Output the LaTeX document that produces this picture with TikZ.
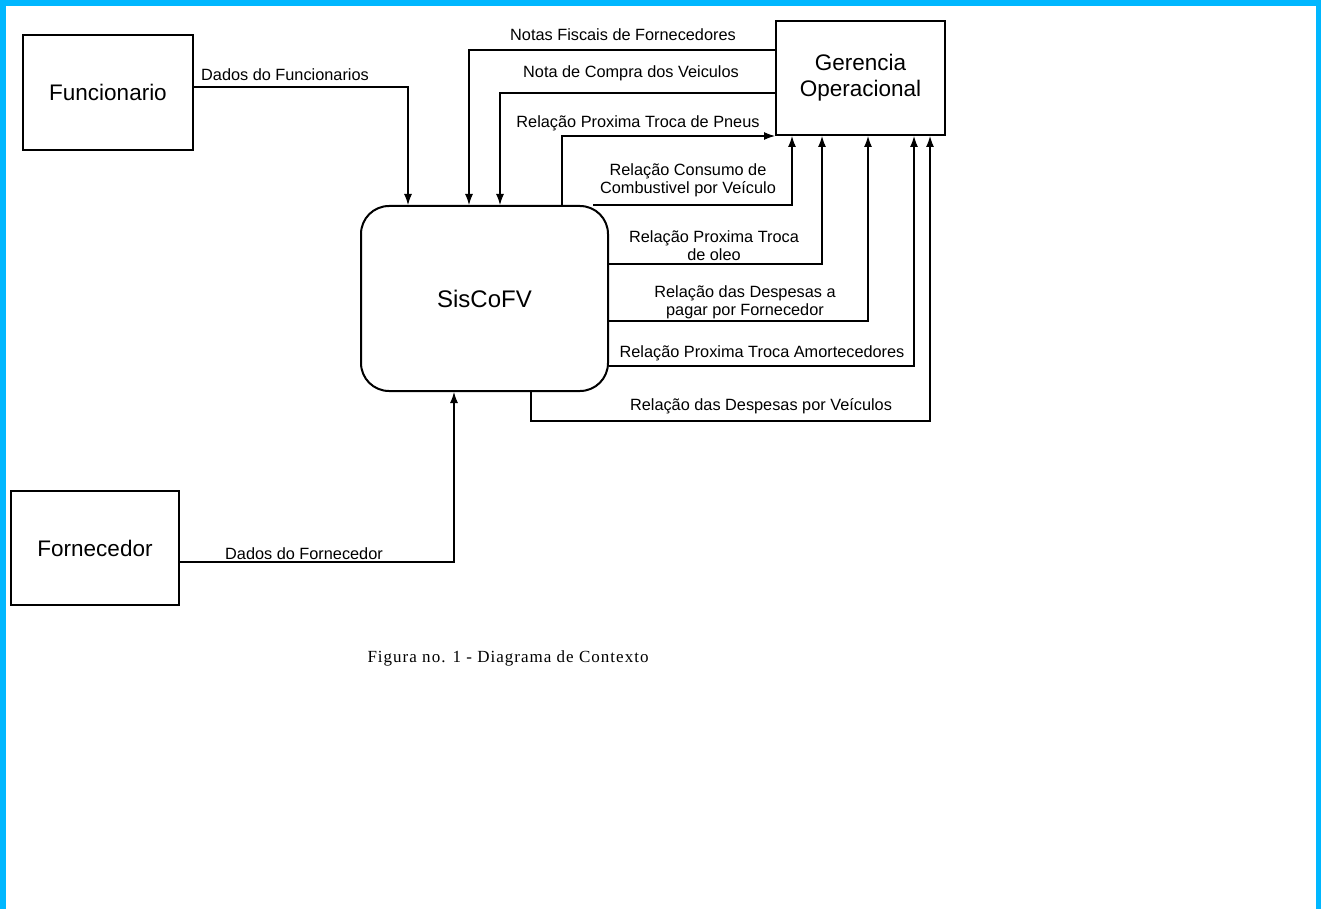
\documentclass[tikz,border=0pt]{standalone}
\usepackage{fontspec}
\setmainfont{Liberation Sans}
\newfontfamily\capfont[LetterSpace=6]{Liberation Serif}
\usetikzlibrary{arrows.meta}
\definecolor{frameblue}{RGB}{0,183,255}
\begin{document}
\begin{tikzpicture}[x=1pt,y=-1pt,
  entity/.style={draw,line width=2pt,inner sep=0pt,font=\fontsize{22.5}{26}\selectfont,align=center},
  proc/.style={draw,line width=2pt,rounded corners=28pt,inner sep=0pt,font=\fontsize{24}{28}\selectfont},
  flow/.style={line width=1.1pt,-{Latex[length=11pt,width=8pt]}},
  lbl/.style={inner sep=0pt,font=\fontsize{16.3}{18}\selectfont,align=center}]
\useasboundingbox (0,0) rectangle (1321,909);
\fill[frameblue] (0,0) rectangle (1321,909);
\fill[white] (6,6) rectangle (1316,909);
% nodes
\node[entity,minimum width=170pt,minimum height=115pt] (fun) at (108,92.5) {Funcionario};
\node[entity,minimum width=169pt,minimum height=114pt] (ger) at (860.5,78) {Gerencia\\Operacional};
\node[entity,minimum width=168pt,minimum height=114pt] (forn) at (95,548) {Fornecedor};
\node[proc,minimum width=247pt,minimum height=185pt] (sis) at (484.5,298.5) {SisCoFV};
% connectors
\draw[flow] (fun.east |- 0,87) -| (sis.north -| 408,0);
\draw[flow] (ger.west |- 0,50) -| (sis.north -| 469,0);
\draw[flow] (ger.west |- 0,93) -| (sis.north -| 500,0);
\draw[flow] (sis.north -| 562,0) |- (ger.south west);
\draw[flow] (sis.north -| 593,0) -| (ger.south -| 792,0);
\draw[flow] (sis.east |- 0,264) -| (ger.south -| 822,0);
\draw[flow] (sis.east |- 0,321) -| (ger.south -| 868,0);
\draw[flow] (sis.east |- 0,366) -| (ger.south -| 914,0);
\draw[flow] (sis.south -| 531,0) -- ++(0,29) -| (ger.south -| 930,0);
\draw[flow] (forn.east |- 0,562) -| (sis.south -| 454,0);
% labels
\node[lbl] (l1) at (285,75) {Dados do Funcionarios};
\node[lbl] (l2) at (623,35) {Notas Fiscais de Fornecedores};
\node[lbl] (l3) at (631,73) {Nota de Compra dos Veiculos};
\node[lbl] (l4) at (638,123) {Relação Proxima Troca de Pneus};
\node[lbl] (l5) at (688,180) {Relação Consumo de\\Combustivel por Veículo};
\node[lbl] (l6) at (714,246) {Relação Proxima Troca\\de oleo};
\node[lbl] (l7) at (745,302) {Relação das Despesas a\\pagar por Fornecedor};
\node[lbl] (l8) at (762,353) {Relação Proxima Troca Amortecedores};
\node[lbl] (l9) at (761,406) {Relação das Despesas por Veículos};
\node[lbl] (l10) at (304,554) {Dados do Fornecedor};
\node[inner sep=0pt,font=\capfont\fontsize{17}{20}\selectfont] (cap) at (508,658) {Figura no. 1 - Diagrama de Contexto};
\end{tikzpicture}
\end{document}
